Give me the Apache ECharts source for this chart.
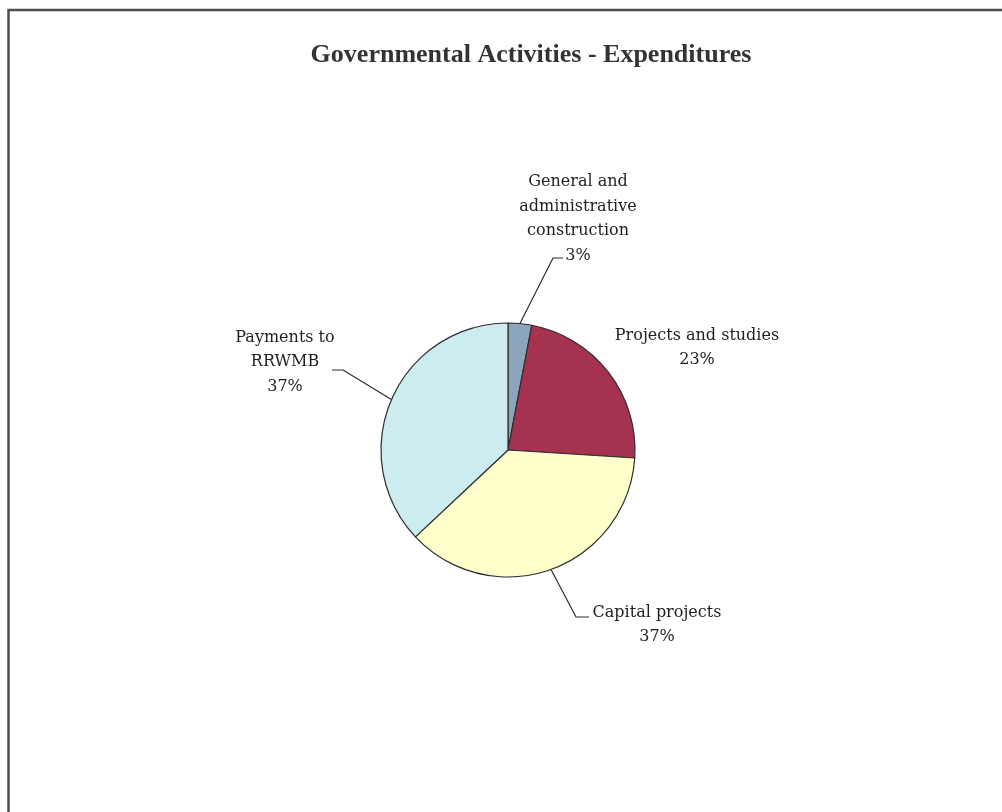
<!DOCTYPE html>
<html>
<head>
<meta charset="utf-8">
<title>Governmental Activities - Expenditures</title>
<script src="https://cdn.jsdelivr.net/npm/echarts@6/dist/echarts.min.js"></script>
<style>
  html, body { margin: 0; padding: 0; background: #ffffff; }
  #chart { width: 1002px; height: 812px; }
</style>
</head>
<body>
<div id="chart"></div>
<script>
// Expenditure categories and their shares (percent of total)
const categories = [
  'General and\nadministrative\nconstruction',
  'Projects and studies',
  'Capital projects',
  'Payments to\nRRWMB'
];
const shares = [3, 23, 37, 37];
const sliceColors = ['#8ca5bf', '#a5324f', '#ffffcc', '#cdecef'];
const chartTitle = 'Governmental Activities - Expenditures';

// Where each label block sits and where its leader line bends/ends (px)
const labelPlacement = [
  { x: 578, y: 219, line: [[553, 258], [563, 258]] },
  { x: 697, y: 348, line: null },
  { x: 657, y: 625, line: [[576, 617], [589, 617]] },
  { x: 285, y: 362, line: [[343, 370], [332, 370]] }
];

const chart = echarts.init(document.getElementById('chart'), null, { renderer: 'canvas' });

const option = {
  backgroundColor: '#ffffff',
  animation: false,
  graphic: [
    {
      type: 'rect',
      shape: { x: 8.5, y: 10, width: 1100, height: 900 },
      style: { fill: 'none', stroke: '#4d4d4d', lineWidth: 2.5 },
      silent: true
    },
    {
      type: 'text',
      x: 531,
      y: 55,
      style: {
        text: chartTitle,
        align: 'center',
        verticalAlign: 'middle',
        fontFamily: 'Liberation Serif',
        fontSize: 26,
        fontWeight: 'bold',
        fill: '#333333'
      },
      silent: true
    }
  ],
  series: [{
    type: 'pie',
    center: [508, 450],
    radius: 127,
    startAngle: 90,
    clockwise: true,
    avoidLabelOverlap: false,
    emphasis: { disabled: true },
    data: categories.map((name, i) => ({
      name: name,
      value: shares[i],
      itemStyle: { color: sliceColors[i] },
      labelLine: { show: labelPlacement[i].line !== null }
    })),
    itemStyle: { borderColor: '#2e2e2e', borderWidth: 1.2 },
    label: {
      show: true,
      position: 'outside',
      formatter: '{b}\n{d}%',
      fontFamily: 'DejaVu Serif',
      fontSize: 16,
      lineHeight: 24.5,
      color: '#1f1f1f'
    },
    labelLine: {
      show: true,
      length: 10,
      length2: 10,
      smooth: false,
      lineStyle: { color: '#2a2a2a', width: 1.2 }
    },
    labelLayout: function (params) {
      const p = labelPlacement[params.dataIndex];
      const out = { x: p.x, y: p.y, align: 'center', verticalAlign: 'middle' };
      if (p.line && params.labelLinePoints) {
        out.labelLinePoints = [params.labelLinePoints[0], p.line[0], p.line[1]];
      }
      return out;
    }
  }]
};

chart.setOption(option);
</script>
</body>
</html>
